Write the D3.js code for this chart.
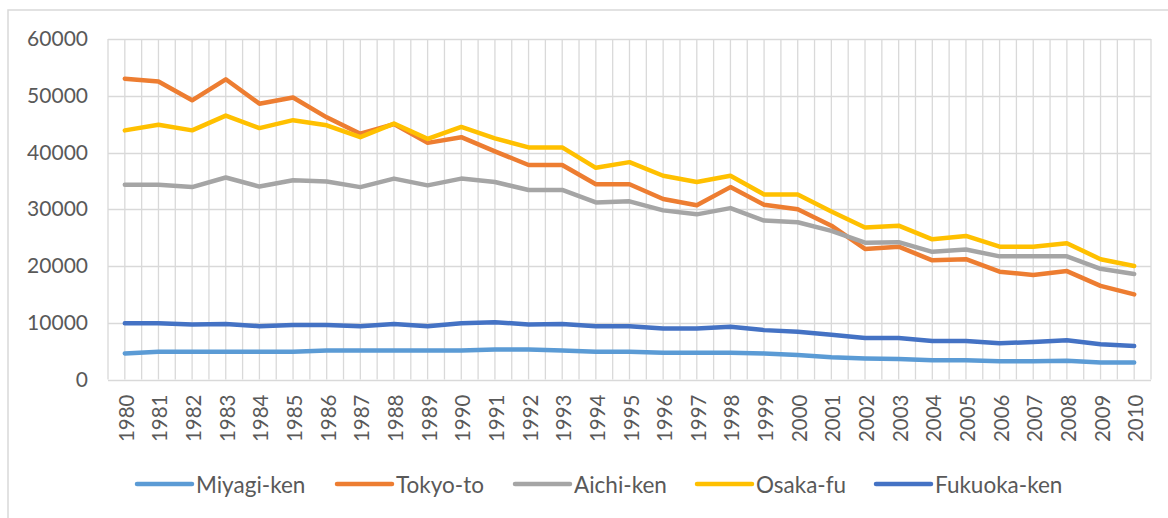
<!DOCTYPE html>
<html>
<head>
<meta charset="utf-8">
<script src="https://cdn.jsdelivr.net/npm/d3@7/dist/d3.min.js"></script>
<style>
  html, body { margin: 0; padding: 0; background: #fff; }
  svg { display: block; }
  text { font-family: Lato, "Open Sans", sans-serif; fill: #595959; }
</style>
</head>
<body>
<svg id="chart" width="1168" height="518"></svg>
<script>
// Years on the category axis
const years = d3.range(1980, 2011).map(String);

// Series values per prefecture, 1980–2010
const miyagi  = [4600, 4900, 4900, 4900, 4900, 4900, 5100, 5100, 5100, 5100, 5100, 5300, 5300, 5100, 4900, 4900, 4700, 4700, 4700, 4600, 4300, 3900, 3700, 3600, 3400, 3400, 3200, 3200, 3300, 3000, 3000];
const tokyo   = [53000, 52500, 49200, 52900, 48600, 49700, 46200, 43300, 45000, 41700, 42700, 40200, 37800, 37800, 34400, 34400, 31800, 30700, 33900, 30800, 30000, 27100, 23000, 23400, 21000, 21200, 19000, 18400, 19100, 16500, 15000];
const aichi   = [34300, 34300, 33900, 35600, 34000, 35100, 34900, 33900, 35400, 34200, 35400, 34800, 33400, 33400, 31200, 31400, 29800, 29100, 30200, 28000, 27700, 26200, 24100, 24200, 22500, 22900, 21700, 21700, 21700, 19500, 18600];
const osaka   = [43900, 44900, 43900, 46500, 44300, 45700, 44800, 42700, 45100, 42400, 44500, 42500, 40900, 40900, 37300, 38300, 35900, 34800, 35900, 32600, 32600, 29600, 26800, 27100, 24700, 25300, 23400, 23400, 24000, 21200, 20000];
const fukuoka = [9900, 9900, 9700, 9800, 9400, 9600, 9600, 9400, 9800, 9400, 9900, 10100, 9700, 9800, 9400, 9400, 9000, 9000, 9300, 8700, 8400, 7900, 7300, 7300, 6800, 6800, 6400, 6600, 6900, 6200, 5900];

const seriesNames  = ["Miyagi-ken", "Tokyo-to", "Aichi-ken", "Osaka-fu", "Fukuoka-ken"];
const seriesValues = [miyagi, tokyo, aichi, osaka, fukuoka];
const seriesColors = ["#5B9BD5", "#ED7D31", "#A5A5A5", "#FFC000", "#4472C4"];

// Value axis ticks
const yTicks = [0, 10000, 20000, 30000, 40000, 50000, 60000];

const svg = d3.select("#chart");

// Chart area frame
svg.append("rect")
  .attr("x", 8).attr("y", 10)
  .attr("width", 1200).attr("height", 560)
  .attr("fill", "#fff")
  .attr("stroke", "#D9D9D9")
  .attr("stroke-width", 1.5);

const plot = { left: 108, right: 1151, top: 39, bottom: 379.5 };

const x = d3.scaleBand().domain(years).range([plot.left, plot.right]).paddingInner(0).paddingOuter(0);
const y = d3.scaleLinear().domain([0, 60000]).range([plot.bottom, plot.top]);
const cx = d => x(d) + x.bandwidth() / 2;

const grid = svg.append("g").attr("class", "grid");

// Horizontal gridlines
grid.selectAll("line.h").data(yTicks).join("line")
  .attr("class", "h")
  .attr("x1", plot.left).attr("x2", plot.right)
  .attr("y1", d => Math.round(y(d)) + 0.5).attr("y2", d => Math.round(y(d)) + 0.5)
  .attr("stroke", "#D9D9D9").attr("stroke-width", 1.3);

// Vertical gridlines at category boundaries and category centres
const vPos = [];
years.forEach(yr => { vPos.push(x(yr)); vPos.push(cx(yr)); });
vPos.push(plot.right);
grid.selectAll("line.v").data(vPos).join("line")
  .attr("class", "v")
  .attr("x1", d => d).attr("x2", d => d)
  .attr("y1", plot.top).attr("y2", plot.bottom)
  .attr("stroke", "#D9D9D9").attr("stroke-width", 1.3);

// Value axis labels
const yAxis = d3.axisLeft(y).tickValues(yTicks).tickSize(0).tickPadding(0).tickFormat(d3.format("d"));
const yg = svg.append("g").attr("transform", `translate(88,0)`).call(yAxis);
yg.select(".domain").remove();
yg.selectAll("text").attr("font-size", 21).attr("fill", "#595959").style("font-family", "Lato, sans-serif");

// Category axis labels, rotated
const xAxis = d3.axisBottom(x).tickSize(0).tickPadding(0);
const xg = svg.append("g").attr("transform", `translate(0,${plot.bottom})`).call(xAxis);
xg.select(".domain").remove();
xg.selectAll("text")
  .attr("font-size", 20.5)
  .attr("fill", "#595959")
  .style("font-family", "Lato, sans-serif")
  .attr("text-anchor", "end")
  .attr("dy", null)
  .attr("y", 0)
  .attr("dominant-baseline", "central")
  .attr("transform", "translate(1,15) rotate(-90)");

// Series lines
const line = d3.line().x((d, i) => cx(years[i])).y(d => y(d));
svg.append("g").selectAll("path").data(seriesValues).join("path")
  .attr("d", d => line(d))
  .attr("fill", "none")
  .attr("stroke", (d, i) => seriesColors[i])
  .attr("stroke-width", 4.5)
  .attr("stroke-linejoin", "round")
  .attr("stroke-linecap", "round");

// Legend
const legendX = [137, 337, 515, 697, 876];
const legend = svg.append("g").selectAll("g").data(seriesNames).join("g")
  .attr("transform", (d, i) => `translate(${legendX[i]},484)`);
legend.append("line")
  .attr("x1", 0).attr("x2", 55).attr("y1", 0).attr("y2", 0)
  .attr("stroke", (d, i) => seriesColors[i])
  .attr("stroke-width", 4.5)
  .attr("stroke-linecap", "round");
legend.append("text")
  .attr("x", 59).attr("y", 0)
  .attr("dominant-baseline", "central")
  .attr("font-size", 22.5)
  .text(d => d);
</script>
</body>
</html>
